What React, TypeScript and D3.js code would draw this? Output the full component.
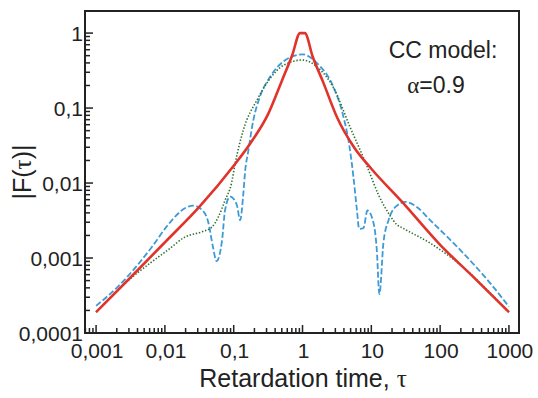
import * as d3 from 'd3';

// axis ticks
const xTicks = [0.001, 0.01, 0.1, 1, 10, 100, 1000];
const xTickLabels = ['0,001', '0,01', '0,1', '1', '10', '100', '1000'];
const yTicks = [0.0001, 0.001, 0.01, 0.1, 1];
const yTickLabels = ['0,0001', '0,001', '0,01', '0,1', '1'];

// red solid curve
const tauRed = [0.001, 0.00316, 0.01, 0.0316, 0.1, 0.178, 0.316, 0.5, 0.71, 0.92, 1.08, 1.41, 2, 3.16, 5.6, 10, 28, 100, 316, 1000];
const fRed = [0.00019, 0.00055, 0.00162, 0.0048, 0.017, 0.0347, 0.083, 0.23, 0.51, 1.0, 1.0, 0.48, 0.22, 0.076, 0.03, 0.0155, 0.0056, 0.0015, 0.00054, 0.00019];

// green dotted curve
const tauGreen = [0.001, 0.00263, 0.00646, 0.0112, 0.0195, 0.0347, 0.0479, 0.06, 0.075, 0.093, 0.105, 0.138, 0.219, 0.34, 0.525, 1, 1.62, 2.79, 4.9, 8.7, 12.6, 18.6, 23.4, 28.8, 71.6, 214, 537, 1000];
const fGreen = [0.00019, 0.00046, 0.00089, 0.00129, 0.0019, 0.00224, 0.00257, 0.00355, 0.0059, 0.01, 0.0182, 0.051, 0.129, 0.25, 0.37, 0.437, 0.355, 0.19, 0.056, 0.0166, 0.0071, 0.0037, 0.0028, 0.0025, 0.00158, 0.00076, 0.00034, 0.00019];

// blue dashed curve
const tauBlue = [0.001, 0.0021, 0.00646, 0.0112, 0.0195, 0.0257, 0.0347, 0.0427, 0.05, 0.0562, 0.0676, 0.075, 0.089, 0.111, 0.124, 0.138, 0.147, 0.162, 0.193, 0.24, 0.34, 0.525, 1, 1.62, 2.82, 3.72, 4.9, 5.5, 6.17, 6.65, 7.67, 8.77, 10.2, 12, 13.1, 15, 17.8, 22.4, 31.6, 45.7, 71.6, 219, 537, 1000];
const fBlue = [0.00023, 0.00042, 0.0014, 0.0028, 0.0046, 0.005, 0.00437, 0.003, 0.0014, 0.00091, 0.0017, 0.0044, 0.0066, 0.0051, 0.0032, 0.0072, 0.0148, 0.026, 0.069, 0.141, 0.263, 0.417, 0.52, 0.398, 0.19, 0.093, 0.0275, 0.012, 0.0044, 0.00245, 0.0025, 0.0043, 0.0035, 0.0013, 0.00033, 0.0016, 0.0032, 0.0048, 0.0056, 0.0048, 0.0032, 0.00115, 0.00046, 0.000224];

const W = 538;
const H = 398;
const margin = { top: 11, right: 19, bottom: 65, left: 85 };
const font = '"Liberation Sans", Arial, sans-serif';
const serif = '"Liberation Serif", "Times New Roman", serif';

export default function App() {
    const x = d3.scaleLog().domain([0.00069, 1400]).range([margin.left, W - margin.right]);
    const y = d3.scaleLog().domain([0.0001, 1.97]).range([H - margin.bottom, margin.top]);

    const line = d3.line<[number, number]>()
        .x(d => x(d[0]))
        .y(d => y(d[1]))
        .curve(d3.curveMonotoneX);

    const pairs = (t: number[], f: number[]) => t.map((v, i) => [v, f[i]] as [number, number]);

    // minor ticks 2..9 in each decade
    const minor = (dom: number[]) => {
        const out: number[] = [];
        for (let k = -5; k <= 4; k++) {
            for (let m = 2; m <= 9; m++) {
                const v = m * Math.pow(10, k);
                if (v > dom[0] && v < dom[1]) out.push(v);
            }
        }
        return out;
    };
    const xMinor = minor(x.domain());
    const yMinor = minor(y.domain());

    const x0 = margin.left;
    const x1 = W - margin.right;
    const y0 = H - margin.bottom;
    const y1 = margin.top;

    return (
        <svg width={W} height={H} style={{ position: 'absolute', left: 0, top: 0, background: '#fff' }}>
            {/* curves */}
            <path d={line(pairs(tauBlue, fBlue)) || ''} fill="none" stroke="#3d9ad6" strokeWidth={1.8} strokeDasharray="6,2.5" />
            <path d={line(pairs(tauGreen, fGreen)) || ''} fill="none" stroke="#2f6f32" strokeWidth={1.6} strokeDasharray="1.4,1.8" />
            <path d={line(pairs(tauRed, fRed)) || ''} fill="none" stroke="#e0332b" strokeWidth={2.6} strokeLinejoin="round" />

            {/* frame */}
            <rect x={x0} y={y1} width={x1 - x0} height={y0 - y1} fill="none" stroke="#222" strokeWidth={2} />

            {/* x ticks */}
            {xMinor.map(v => (
                <line key={'xm' + v} x1={x(v)} x2={x(v)} y1={y0} y2={y0 - 5} stroke="#222" strokeWidth={1.5} />
            ))}
            {xTicks.map((v, i) => (
                <g key={'x' + v}>
                    <line x1={x(v)} x2={x(v)} y1={y0} y2={y0 - 8} stroke="#222" strokeWidth={1.5} />
                    <text x={x(v) + 1} y={358} textAnchor="middle" fontFamily={font} fontSize={21} fill="#222">{xTickLabels[i]}</text>
                </g>
            ))}

            {/* y ticks */}
            {yMinor.map(v => (
                <line key={'ym' + v} x1={x0} x2={x0 + 5} y1={y(v)} y2={y(v)} stroke="#222" strokeWidth={1.5} />
            ))}
            {yTicks.map((v, i) => (
                <g key={'y' + v}>
                    <line x1={x0} x2={x0 + 8} y1={y(v)} y2={y(v)} stroke="#222" strokeWidth={1.5} />
                    <text x={83} y={y(v) + 7.5} textAnchor="end" fontFamily={font} fontSize={21} fill="#222">{yTickLabels[i]}</text>
                </g>
            ))}

            {/* axis titles */}
            <text x={(x0 + x1) / 2 + 1} y={387} textAnchor="middle" fontFamily={font} fontSize={25} fill="#222">
                Retardation time, <tspan fontFamily={serif}>τ</tspan>
            </text>
            <text transform={`translate(31,${(y0 + y1) / 2}) rotate(-90)`} textAnchor="middle" fontFamily={font} fontSize={25} fill="#222">
                |F(<tspan fontFamily={serif}>τ</tspan>)|
            </text>

            {/* annotation */}
            <text x={443} y={58} textAnchor="middle" fontFamily={font} fontSize={23} fill="#222">CC model:</text>
            <text x={436} y={93} textAnchor="middle" fontFamily={font} fontSize={23} fill="#222">
                <tspan fontFamily={serif}>α</tspan>=0.9
            </text>
        </svg>
    );
}
